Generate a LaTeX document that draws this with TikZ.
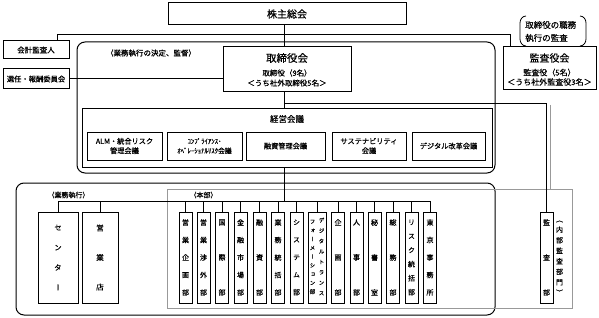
\documentclass[tikz,border=0pt]{standalone}
\usepackage{fontspec}
\setmainfont[FakeBold=0.5]{Noto Sans CJK JP}
\newfontfamily\vjp[RawFeature=+vert,FakeBold=0.5]{Noto Sans CJK JP}
\newcommand{\fsz}[2]{\fontsize{#1}{#2}\selectfont}
\begin{document}
\begin{tikzpicture}[x=1pt,y=-1pt,
  box/.style={draw,line width=1pt,inner sep=0pt,align=center},
  conn/.style={line width=1pt},
  cont/.style={line width=1pt,rounded corners=8pt},
  vbox/.style={box,minimum width=13pt,minimum height=91pt,font=\vjp\fsz{7}{#1}},
  ibox/.style={box,minimum height=28pt,font=\fsz{7.2}{9.5}},
  lbl/.style={inner sep=0pt,font=\fsz{7.5}{9}},
  grey/.style={draw=black!40,line width=0.8pt}
]
\useasboundingbox (0,0) rectangle (599,318);
\fill[white] (0,0) rectangle (599,318);

% containers
\draw[cont] (77,42) rectangle (495,173);
\draw[cont] (16,183) rectangle (495,315);
\draw[grey] (167,189) rectangle (572,308);
\draw[grey] (550,105) -- (550,189);

\coordinate (spine) at (284,0);
\coordinate (toprow) at (0,35);
\coordinate (midrow) at (0,104);
\coordinate (bus) at (0,201);
\coordinate (lx) at (57,0);
\coordinate (rx) at (510,0);

% top boxes
\node[box,minimum width=238pt,minimum height=22pt,font=\fsz{10}{12}] (kabu) at (287,14) {株主総会};
\node[box,minimum width=66pt,minimum height=18pt,font=\fsz{7.5}{9}] (kaikei) at (36,50) {会計監査人};
\node[box,minimum width=66pt,minimum height=20pt,font=\fsz{7.3}{9}] (senin) at (36,79) {選任・報酬委員会};

\node[box,minimum width=128pt,minimum height=45pt] (tori) at (287,69.5) {};
\node[lbl,font=\fsz{10.5}{12}] (tori1) at (287,58) {取締役会};
\node[lbl] (tori2) at (287,73) {取締役（9名）};
\node[lbl] (tori3) at (287,83) {＜うち社外取締役5名＞};

\node[box,minimum width=93pt,minimum height=43pt] (kansayaku) at (549.5,68.5) {};
\node[lbl,font=\fsz{10}{12}] (ky1) at (549.5,58) {監査役会};
\node[lbl,font=\fsz{8}{9}] (ky2) at (549.5,72.5) {監査役（5名）};
\node[lbl,font=\fsz{8}{9}] (ky3) at (549.5,82) {＜うち社外監査役3名＞};

\node[lbl,font=\fsz{8.5}{10},anchor=west] (shoku1) at (525,25) {取締役の職務};
\node[lbl,font=\fsz{8.5}{10},anchor=west] (shoku2) at (525,38) {執行の監査};
\draw[line width=0.8pt] (526,16) to[out=180,in=90] (520,23) -- (520,39) to[out=-90,in=180] (526,46);
\draw[line width=0.8pt] (580,16) to[out=0,in=90] (586,23) -- (586,39) to[out=-90,in=0] (580,46);

\node[lbl] (kettei) at (151,53) {（業務執行の決定、監督）};

% management meeting
\node[box,minimum width=410pt,minimum height=58pt] (keiei) at (287,138) {};
\node[lbl,font=\fsz{8.5}{10}] (keieit) at (287,119) {経営会議};
\node[ibox,minimum width=75pt] (alm) at (124.5,146) {ALM・統合リスク\\管理会議};
\node[ibox,minimum width=75pt,font=\fsz{6.8}{9.5}] (comp) at (204.5,146) {ｺﾝﾌﾟﾗｲｱﾝｽ･\\ｵﾍﾟﾚｰｼｮﾅﾙﾘｽｸ会議};
\node[ibox,minimum width=79pt] (yushi) at (285.5,146) {融資管理会議};
\node[ibox,minimum width=74pt] (sus) at (369,146) {サステナビリティ\\会議};
\node[ibox,minimum width=73pt] (dxk) at (448.5,146) {デジタル改革会議};

% execution
\node[lbl,font=\fsz{7}{9}] (gyomu) at (68.5,195) {（業務執行）};
\node[lbl,font=\fsz{7}{9}] (honbu) at (203.5,195) {（本部）};

\node[box,minimum width=40pt,minimum height=91pt,font=\vjp\fsz{7.5}{20}] (cent) at (58,257.5) {セ\\ン\\タ\\ー};
\node[box,minimum width=36pt,minimum height=91pt,font=\vjp\fsz{7.5}{29.5}] (eigyo) at (100,257.5) {営\\業\\店};

\foreach \x/\n/\t/\s in {
  185.5/b1/{営\\業\\企\\画\\部}/17.5,
  203.5/b2/{営\\業\\渉\\外\\部}/17.5,
  222/b3/{国\\際\\部}/35,
  240.5/b4/{金\\融\\市\\場\\部}/17.5,
  259.5/b5/{融\\資\\部}/35,
  278/b6/{業\\務\\統\\括\\部}/17.5,
  296.5/b7/{シ\\ス\\テ\\ム\\部}/17.5,
  338/b9/{企\\画\\部}/35,
  356.5/b10/{人\\事\\部}/35,
  374.5/b11/{秘\\書\\室}/35,
  393/b12/{総\\務\\部}/35,
  411.5/b13/{リ\\ス\\ク\\統\\括\\部}/14,
  430/b14/{東\\京\\事\\務\\所}/17.5}{
  \node[vbox=\s] (\n) at (\x,257.5) {\t};
}
\node[box,minimum width=18pt,minimum height=91pt] (b8) at (317,257.5) {};
\node[inner sep=0pt,align=center,font=\vjp\fsz{5.5}{10.4}] (b8r) at (321.5,256.5) {デ\\ジ\\タ\\ル\\ト\\ラ\\ン\\ス};
\node[inner sep=0pt,align=center,font=\vjp\fsz{5.5}{8.75}] (b8l) at (312.5,257) {フ\\ォ\\ー\\メ\\ー\\シ\\ョ\\ン\\部};

\node[vbox=35] (kansa) at (546.5,257.5) {監\\査\\部};
\node[inner sep=0pt,align=center,font=\vjp\fsz{7}{10.5}] (naibu) at (559.5,258) {（\\内\\部\\監\\査\\部\\門\\）};

% connectors
\draw[conn] (kabu.south -| spine) -- (tori.north -| spine);
\draw[conn] (kaikei.north -| lx) -- (lx |- toprow) -- (rx |- toprow) -- (kansayaku.north -| rx);
\draw[conn] (senin.east) -- (tori.west |- senin.east);
\draw[conn] (tori.south -| spine) -- (keiei.north -| spine);
\draw[conn] (spine |- midrow) -- (kansa.north |- midrow) -- (kansa.north);
\draw[conn] (keiei.south -| spine) -- (spine |- bus);
\draw[conn] (cent.north |- bus) -- (b14.north |- bus);
\foreach \n in {cent,eigyo,b1,b2,b3,b4,b5,b6,b7,b8,b9,b10,b11,b12,b13,b14}{
  \draw[conn] (\n.north |- bus) -- (\n.north);
}
\end{tikzpicture}
\end{document}
